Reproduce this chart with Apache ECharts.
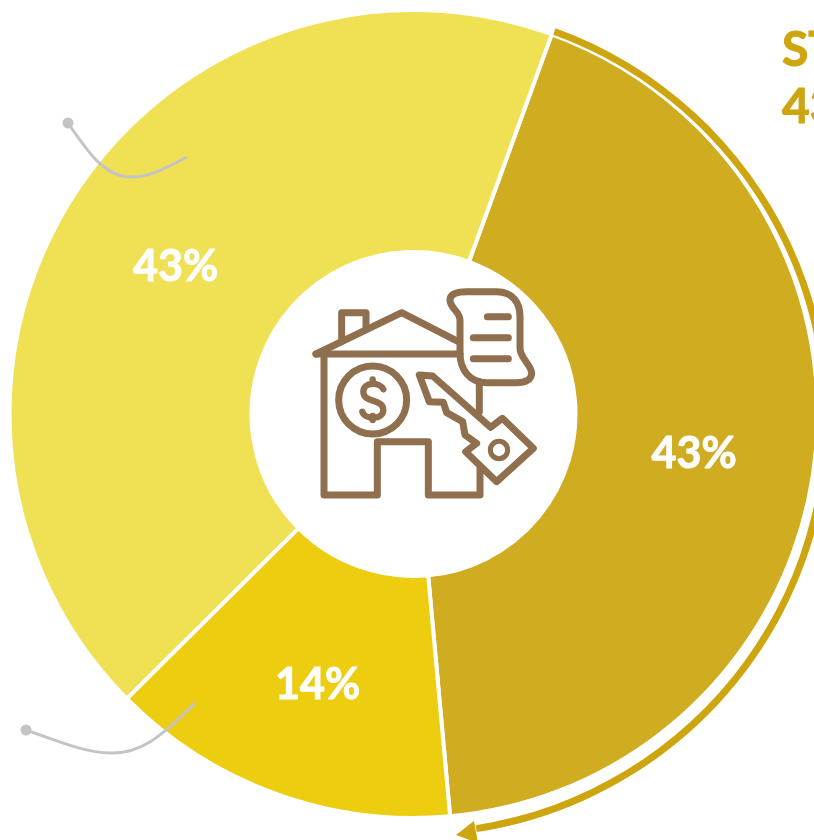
<!DOCTYPE html>
<html>
<head>
<meta charset="utf-8">
<style>
  html, body { margin: 0; padding: 0; background: #fff; overflow: hidden; }
  #chart { width: 814px; height: 840px; }
</style>
<script src="https://cdn.jsdelivr.net/npm/echarts@6/dist/echarts.min.js"></script>
</head>
<body>
<div id="chart"></div>
<script>
// shares, clockwise from the dark slice
const categories = ['ST', 'Second', 'Third']
const shares = [43, 14, 43]
const sliceColors = ['#D0AC20', '#ECCD0F', '#F0E054']
// outer arc follows the dark slice: drawn part, then the empty rest
const arcShares = [42, 58]
const calloutLines = ['ST', '43']

const gold = '#CDA50F'
const brown = '#8F6F4E'
const grey = '#C4C4C4'

// small nudges so the labels sit where the reference has them
const labelOffsets = [[-3, 3], [2, 2], [3, 7]]

const chart = echarts.init(document.getElementById('chart'))

// graphic component has no plain svg path type, so register one per path
let shapeCount = 0
const pathShape = pathData => {
  const name = 'iconPath' + shapeCount++
  echarts.graphic.registerShape(name, echarts.graphic.extendPath(pathData, {}))
  return name
}

// icon paths are in 3x units, the group scales them down
const iconLine = (pathData, lineWidth) => ({
  type: pathShape(pathData),
  style: { fill: 'none', stroke: brown, lineWidth: lineWidth || 21, lineJoin: 'round', lineCap: 'round' }
})

const icon = {
  type: 'group',
  x: 300,
  y: 270,
  scaleX: 1 / 3,
  scaleY: 1 / 3,
  z: 10,
  children: [
    iconLine('M48,252 L305,128 L475,215'),
    iconLine('M48,252 L480,252'),
    iconLine('M125,205 L125,128 L198,128 L198,172'),
    iconLine('M72,252 L72,675 L232,675 L232,515 L385,515 L385,675 L540,675 L540,590'),
    iconLine('M538,335 L538,425'),
    { type: 'circle', z: 10, shape: { cx: 218, cy: 390, r: 102 }, style: { fill: 'none', stroke: brown, lineWidth: 21 } },
    iconLine('M250,358 C240,335 190,335 190,365 C190,400 250,385 250,420 C250,450 195,450 187,425', 19),
    iconLine('M218,328 L218,342', 19),
    iconLine('M218,438 L218,450', 19),
    iconLine('M500,65 L590,65 C640,65 660,100 660,140 L660,235 C660,265 695,285 695,310 C695,330 675,338 650,338 L560,338 C510,338 480,300 480,250 L480,150 C480,125 450,115 450,90 C450,70 475,65 500,65 Z'),
    iconLine('M562,140 L625,140'),
    iconLine('M520,203 L625,203'),
    iconLine('M520,266 L625,266'),
    iconLine('M358,315 L398,318 L572,472 L607,445 L700,535 L590,635 L497,545 L530,520 L495,495 L488,455 L440,428 L430,397 L388,395 Z'),
    { type: 'circle', z: 10, shape: { cx: 597, cy: 540, r: 26 }, style: { fill: 'none', stroke: brown, lineWidth: 15 } }
  ]
}

const leader = (pathData, dotX, dotY) => [
  { type: pathShape(pathData), z: 10, style: { fill: 'none', stroke: grey, lineWidth: 3 } },
  { type: 'circle', z: 10, shape: { cx: dotX, cy: dotY, r: 5.5 }, style: { fill: grey } }
]

const calloutStyle = text => ({
  text,
  fill: gold,
  stroke: gold,
  lineWidth: 1,
  fontFamily: 'Lato',
  fontWeight: 'bold',
  fontSize: 48
})

chart.setOption({
  backgroundColor: '#fff',
  animation: false,
  series: [
    {
      type: 'pie',
      silent: true,
      center: [413.5, 414],
      radius: [162, 404],
      startAngle: 70,
      clockwise: true,
      data: categories.map((name, i) => ({
        name,
        value: shares[i],
        itemStyle: { color: sliceColors[i] },
        label: { offset: labelOffsets[i] }
      })),
      itemStyle: { borderColor: '#fff', borderWidth: 4 },
      label: {
        position: 'inside',
        formatter: '{c}%',
        color: '#fff',
        fontFamily: 'Lato',
        fontWeight: 'bold',
        fontSize: 43,
        textBorderColor: '#fff',
        textBorderWidth: 1
      },
      labelLine: { show: false }
    },
    {
      // ring along the dark slice, the rest stays empty
      type: 'pie',
      silent: true,
      center: [413, 420],
      radius: [410, 417],
      startAngle: 70,
      clockwise: true,
      label: { show: false },
      labelLine: { show: false },
      data: [
        { value: arcShares[0], itemStyle: { color: gold } },
        { value: arcShares[1], itemStyle: { color: 'transparent' } }
      ]
    }
  ],
  graphic: [
    icon,
    ...leader('M68,123 C88,152 105,178 132,177 C150,177 168,167 187,157', 68, 123),
    ...leader('M26,730 C55,740 85,753 110,753 C140,754 160,738 195,703', 26, 730),
    { type: 'polygon', z: 10, shape: { points: [[456, 835], [474, 821], [478, 843]] }, style: { fill: gold } },
    { type: 'text', z: 10, x: 782, y: 27, style: calloutStyle(calloutLines[0]) },
    { type: 'text', z: 10, x: 782, y: 84, style: calloutStyle(calloutLines[1]) }
  ]
})
</script>
</body>
</html>
